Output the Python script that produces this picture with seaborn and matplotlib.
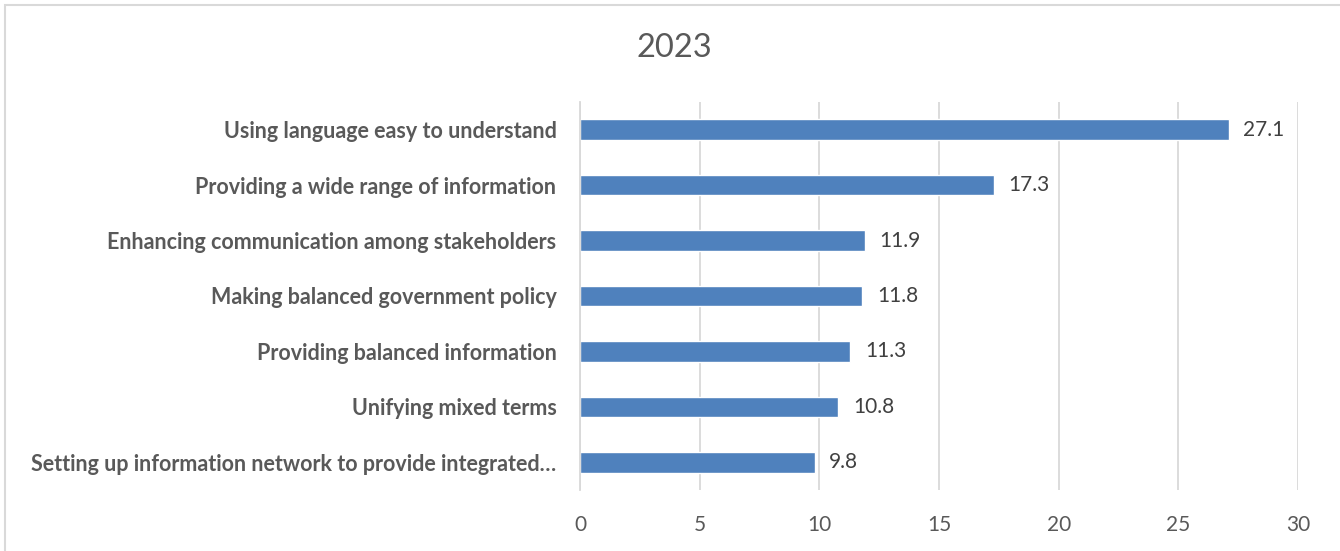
import matplotlib
matplotlib.use("Agg")
import matplotlib.pyplot as plt
import seaborn as sns
import pandas as pd
from matplotlib.patches import Rectangle

categories = [
    "Using language easy to understand",
    "Providing a wide range of information",
    "Enhancing communication among stakeholders",
    "Making balanced government policy",
    "Providing balanced information",
    "Unifying mixed terms",
    "Setting up information network to provide integrated\u2026",
]
values = [27.1, 17.3, 11.9, 11.8, 11.3, 10.8, 9.8]
title = "2023"
xticks = [0, 5, 10, 15, 20, 25, 30]

sns.set_theme(style="white")
plt.rcParams['font.family'] = ['Lato', 'DejaVu Sans']

df = pd.DataFrame({"category": categories, "value": values})

fig = plt.figure(figsize=(13.4, 5.51), dpi=100)
ax = fig.add_axes([580/1340, 1-490/551, (1298-580)/1340, (490-102)/551])

sns.barplot(data=df, y="category", x="value", color="#4f81bd", saturation=1,
            width=0.37, ax=ax, orient="h")

ax.set_xlim(0, 30)
ax.set_ylim(6.5, -0.5)
ax.set_xticks(xticks)
ax.set_xticklabels([str(t) for t in xticks], fontsize=15, color="#595959")
ax.set_yticks(range(len(categories)))
ax.set_yticklabels(categories, fontsize=15.5, fontweight="bold", color="#595959")
ax.tick_params(axis="y", length=0, pad=17)
ax.tick_params(axis="x", length=0, pad=18)
ax.set_xlabel("")
ax.set_ylabel("")
ax.grid(axis="x", color="#d9d9d9", linewidth=1.3)
ax.set_axisbelow(True)
for s in ["top", "right", "bottom"]:
    ax.spines[s].set_visible(False)
ax.spines["left"].set_color("#d9d9d9")
ax.spines["left"].set_linewidth(1.3)

for i, v in enumerate(values):
    ax.text(v + 0.6, i, f"{v}", va="center", ha="left", fontsize=15, color="#404040")

fig.text(674/1340, 1-48/551, title, ha="center", va="center", fontsize=23.5, color="#595959")

fig.patches.append(Rectangle((5/1340, -0.01), 1.0, 1 - 5/551 + 0.01, transform=fig.transFigure,
                             fill=False, edgecolor="#d9d9d9", linewidth=1.5))

fig.savefig("out.png", dpi=100)
